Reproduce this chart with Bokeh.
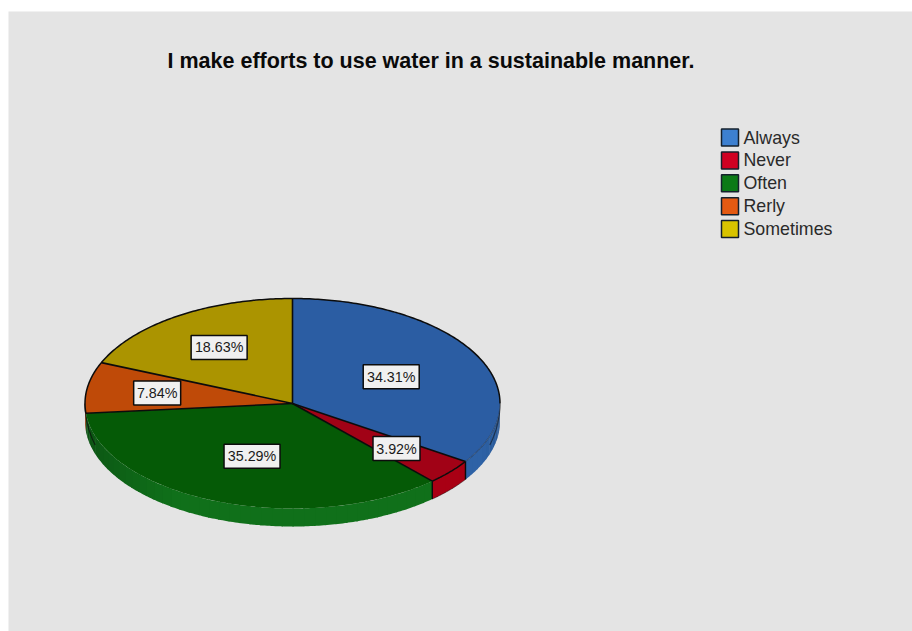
import numpy as np
from bokeh.core.properties import value
from bokeh.embed import file_html
from bokeh.models import ColumnDataSource, Range1d
from bokeh.plotting import figure
from bokeh.resources import INLINE

# Survey answers and their share of respondents
categories = ["Always", "Never", "Often", "Rerly", "Sometimes"]
shares = [34.31, 3.92, 35.29, 7.84, 18.63]
share_labels = ["34.31%", "3.92%", "35.29%", "7.84%", "18.63%"]
title_text = "I make efforts to use water in a sustainable manner."

top_colors = ["#2b5da3", "#a10216", "#055a06", "#bf4a08", "#ab9400"]
wall_colors = ["#2e62a6", "#a90014", "#10701a", "#bf4a08", "#ab9400"]
legend_colors = ["#3d80d0", "#cf0022", "#0b7a16", "#e45a12", "#d8c400"]
label_radii = [0.54, 0.66, 0.54, 0.66, 0.64]

# Projected pie geometry in page pixels
CX, CY, RX, RY, DEPTH = 292, 403, 207.5, 105, 18
INK = "#0c0c0c"
FONT = "Liberation Sans"


def ellipse_xy(deg, fraction=1.0, drop=0.0):
    """Point on the tilted disc; angles run clockwise from twelve o'clock."""
    rad = np.radians(deg)
    return CX + RX * fraction * np.sin(rad), CY - RY * fraction * np.cos(rad) + drop


def shaded(color, amount):
    """Darken a hex colour by the given fraction."""
    rgb = [int(color[i:i + 2], 16) for i in (1, 3, 5)]
    return "#" + "".join(f"{int(c * (1 - amount)):02x}" for c in rgb)


edges = np.concatenate([[0.0], np.cumsum(shares)]) / sum(shares) * 360.0
starts, ends = edges[:-1], edges[1:]

p = figure(
    width=912, height=631, output_backend="svg", toolbar_location=None,
    x_range=Range1d(0, 912), y_range=Range1d(631, 0),
    min_border=0, outline_line_color=None, border_fill_color="white",
    background_fill_color="white",
)
p.axis.visible = False
p.grid.visible = False

# Grey chart panel
p.quad(left=[8], right=[912], top=[11], bottom=[631], fill_color="#e4e4e4", line_color=None)

# Outer wall in narrow strips, falling into shade towards both sides of the rim
wall_xs, wall_ys, wall_fill = [], [], []
for start, end, color in zip(starts, ends, wall_colors):
    a, b = max(start, 90.0), min(end, 270.0)
    if a >= b:
        continue
    steps = np.arange(a, b + 3.0, 3.0)
    steps[-1] = b
    for s0, s1 in zip(steps[:-1], steps[1:]):
        sweep = np.linspace(s0, min(s1 + 0.4, b), 6)
        x_up, y_up = ellipse_xy(sweep)
        x_down, y_down = ellipse_xy(sweep[::-1], drop=DEPTH)
        wall_xs.append(np.concatenate([x_up, x_down]))
        wall_ys.append(np.concatenate([y_up, y_down]))
        mid = (s0 + s1) / 2
        left_shade = np.clip((mid - 215.0) / 55.0, 0, 1) * 0.32
        right_shade = np.clip((115.0 - mid) / 25.0, 0, 1) * 0.12
        wall_fill.append(shaded(color, max(left_shade, right_shade)))
p.patches(wall_xs, wall_ys, fill_color=wall_fill, line_color=None)

# Vertical seams between the red wall and its neighbours
seam_angles = [e for e in edges if 90.0 < e < 200.0]
seam_x = [[ellipse_xy(e)[0]] * 2 for e in seam_angles]
seam_y = [[ellipse_xy(e)[1], ellipse_xy(e, drop=DEPTH)[1]] for e in seam_angles]
p.multi_line(seam_x, seam_y, line_color=INK, line_width=1.4)

# Soft silhouette down both extreme sides of the wall
for side, alpha in ((np.linspace(90, 108, 20), 0.55), (np.linspace(270, 252, 20), 0.7)):
    x_side, y_side = ellipse_xy(side, drop=DEPTH * 0.5)
    p.line(x_side, y_side - DEPTH * 0.5 * (1 - (np.abs(side - side[0]) / 18.0)),
           line_color=INK, line_alpha=alpha, line_width=1.2)

# Top face of each slice
top_xs, top_ys = [], []
for start, end in zip(starts, ends):
    x, y = ellipse_xy(np.linspace(start, end, 120))
    top_xs.append(np.concatenate([[CX], x]))
    top_ys.append(np.concatenate([[CY], y]))
p.patches(top_xs, top_ys, fill_color=top_colors, line_color=None)

# Radial dividers and the dark rim along the far side of the disc
ray_x = [[CX, ellipse_xy(e)[0]] for e in edges[:-1]]
ray_y = [[CY, ellipse_xy(e)[1]] for e in edges[:-1]]
p.multi_line(ray_x, ray_y, line_color=INK, line_width=1.6)
rim_x, rim_y = ellipse_xy(np.linspace(ends[2], 450, 240))
p.line(rim_x, rim_y, line_color=INK, line_width=1.5)

# Near-side rim: faint on the blue slice, solid on the red one
near_blue = ellipse_xy(np.linspace(90, ends[0], 60))
p.line(near_blue[0], near_blue[1], line_color=INK, line_alpha=0.3, line_width=1.2)
near_red = ellipse_xy(np.linspace(starts[1], ends[1], 30))
p.line(near_red[0], near_red[1], line_color=INK, line_width=1.5)
red_foot = ellipse_xy(np.linspace(starts[1], ends[1], 30), drop=DEPTH)
p.line(red_foot[0], red_foot[1], line_color=INK, line_alpha=0.45, line_width=1.0)

# Value labels in white boxes, placed along each slice's mid angle
mids = (starts + ends) / 2
lx, ly = ellipse_xy(mids, np.array(label_radii))
box_w = [56 if len(t) > 5 else 47 for t in share_labels]
labels = ColumnDataSource(dict(x=lx, y=ly, w=box_w, text=share_labels))
p.rect("x", "y", width="w", height=24, width_units="screen", height_units="screen",
       source=labels, fill_color="#f0f0f0", line_color=INK, line_width=1.5)
p.text("x", "y", text="text", source=labels, text_align="center", text_baseline="middle",
       text_font=value(FONT), text_font_size="14.3px", text_color="#1a1a1a")

# Title
p.text([430.5], [60], text=[title_text], text_align="center", text_baseline="middle",
       text_font=value(FONT), text_font_style="bold", text_font_size="21.5px", text_color="#0a0a0a")

# Legend
row_y = 137 + 22.9 * np.arange(len(categories))
legend = ColumnDataSource(dict(x=[729.5] * len(categories), tx=[743] * len(categories),
                               y=row_y, name=categories, color=legend_colors))
p.rect("x", "y", width=17, height=17, width_units="screen", height_units="screen",
       source=legend, fill_color="color", line_color="#15202c", line_width=1.5)
p.text("tx", "y", text="name", source=legend, text_align="left", text_baseline="middle",
       text_font=value(FONT), text_font_size="17.8px", text_color="#2a2a2a")

open("out.html", "w").write(file_html(p, INLINE))
